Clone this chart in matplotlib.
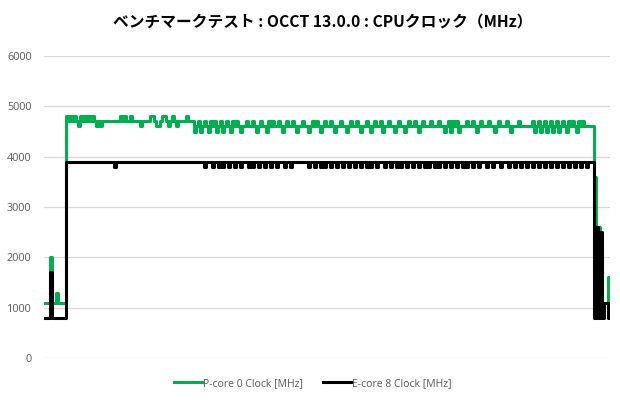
import matplotlib
matplotlib.use("Agg")
import matplotlib.pyplot as plt
import numpy as np

TITLE = "ベンチマークテスト : OCCT 13.0.0 : CPUクロック（MHz）"
SERIES_NAMES = ["P-core 0 Clock [MHz]", "E-core 8 Clock [MHz]"]
Y_TICKS = [0, 1000, 2000, 3000, 4000, 5000, 6000]

# clock readings, in units of 100 MHz, one per sample
p_core_idle = [11, 11, 11, 20, 11, 11, 13, 11, 11, 11, 11]
p_core_early = [
    48, 47, 48, 47, 48, 47, 46, 48, 47, 48,
    47, 48, 47, 48, 47, 46, 47, 46, 47, 47,
    47, 47, 47, 47, 47, 47, 47, 48, 47, 48,
    47, 47, 48, 47, 47, 47, 47, 46, 47, 47,
    47, 47, 48, 48, 47, 46, 46, 47, 48, 48,
    47, 46, 47, 48, 47, 46, 47, 47, 47, 47,
    48, 47, 47, 47,
]
p_core_load = [
    45, 46, 47, 45, 46, 47, 46, 45, 47, 46,
    47, 45, 46, 47, 45, 46, 47, 46, 45, 47,
    46, 47, 46, 45, 46, 46, 47, 46, 46, 47,
    46, 45, 46, 47, 46, 46, 45, 47, 46, 47,
    46, 46, 47, 46, 45, 46, 47, 46, 46, 47,
    46, 45, 46, 46, 47, 46, 46, 45, 46, 47,
    46, 47, 46, 45, 46, 47, 46, 46, 47, 46,
    45, 46, 46, 47, 46, 46, 45, 46, 47, 46,
    46, 47, 46, 45, 46, 46, 47, 46, 45, 46,
    47, 46, 46, 47, 45, 46, 46, 47, 46, 46,
    45, 46, 47, 46, 46, 45, 46, 47, 46, 46,
    47, 46, 45, 46, 47, 46, 46, 46, 47, 46,
    46, 46, 47, 46, 46, 45, 46, 47, 45, 47,
    46, 47, 45, 46, 46, 46, 47, 46, 46, 47,
    46, 45, 46, 47, 46, 46, 46, 47, 46, 46,
    45, 46, 47, 46, 46, 46, 47, 46, 45, 46,
    46, 46, 47, 46, 46, 46, 46, 46, 46, 47,
    45, 46, 47, 45, 46, 47, 45, 46, 47, 45,
    46, 47, 45, 46, 47, 46, 45, 47, 46, 47,
    46, 45, 47, 46, 47, 46, 46, 46, 46, 46,
]
p_core_tail = [36, 24, 26, 23, 11, 11, 11, 16]

e_core_idle = [8, 8, 8, 17, 8, 8, 8, 8, 8, 8, 8]
e_core_early = [
    39, 39, 39, 39, 39, 39, 39, 39, 39, 39,
    39, 39, 39, 39, 39, 39, 39, 39, 39, 39,
    39, 39, 39, 39, 38, 39, 39, 39, 39, 39,
    39, 39, 39, 39, 39, 39, 39, 39, 39, 39,
    39, 39, 39, 39, 39, 39, 39, 39, 39, 39,
    39, 39, 39, 39, 39, 39, 39, 39, 39, 39,
    39, 39, 39, 39,
]
e_core_load = [
    39, 39, 39, 39, 39, 38, 39, 39, 39, 38,
    39, 39, 38, 39, 38, 39, 39, 38, 39, 39,
    38, 39, 39, 38, 39, 39, 39, 38, 39, 38,
    39, 39, 38, 39, 39, 38, 39, 39, 38, 39,
    39, 38, 39, 39, 39, 38, 39, 39, 38, 39,
    39, 39, 39, 39, 39, 39, 39, 38, 39, 39,
    38, 39, 39, 38, 39, 38, 39, 39, 38, 39,
    39, 38, 39, 39, 38, 39, 39, 38, 39, 39,
    38, 39, 39, 38, 39, 39, 38, 39, 38, 39,
    39, 38, 39, 39, 39, 38, 39, 39, 38, 39,
    39, 38, 39, 38, 39, 39, 38, 39, 39, 38,
    39, 39, 38, 39, 39, 38, 39, 38, 39, 39,
    38, 39, 38, 39, 39, 38, 39, 39, 38, 39,
    39, 38, 39, 39, 38, 39, 38, 39, 39, 38,
    39, 39, 38, 39, 39, 39, 38, 39, 39, 38,
    39, 39, 39, 38, 39, 39, 39, 38, 39, 39,
    38, 39, 39, 38, 39, 39, 38, 39, 39, 38,
    39, 39, 38, 39, 39, 38, 39, 39, 38, 39,
    39, 38, 39, 39, 38, 39, 39, 38, 39, 39,
    38, 39, 39, 38, 39, 39, 38, 39, 39, 39,
]
e_core_tail = [8, 26, 8, 25, 8, 11, 11, 8]

p_core = np.array(p_core_idle + p_core_early + p_core_load + p_core_tail) * 100
e_core = np.array(e_core_idle + e_core_early + e_core_load + e_core_tail) * 100
samples = np.arange(len(p_core))

GREEN = "#00b050"
TEXT_GRAY = "#595959"

plt.rcParams["font.family"] = ["Open Sans", "DejaVu Sans"]

fig = plt.figure(figsize=(6.2, 4.0), dpi=100)
ax = fig.add_axes([0.071, 0.105, 0.913, 0.755])

ax.plot(samples, p_core, color=GREEN, lw=2.2, label=SERIES_NAMES[0], drawstyle="steps-mid")
ax.plot(samples, e_core, color="black", lw=2.2, label=SERIES_NAMES[1], drawstyle="steps-mid")

ax.set_xlim(-0.5, len(samples) - 0.5)
ax.set_ylim(0, 6000)
ax.set_yticks(Y_TICKS)
ax.set_yticklabels([str(v) for v in Y_TICKS])
ax.set_xticks([])
ax.grid(axis="y", color="#d9d9d9", lw=0.9)
ax.set_axisbelow(True)
for s in ax.spines.values():
    s.set_visible(False)
ax.tick_params(axis="y", length=0, pad=9, labelsize=7.8, labelcolor=TEXT_GRAY)

fig.text(0.52, 0.945, TITLE, ha="center", va="center", fontsize=11.3, fontweight="bold",
         family=["Noto Sans CJK JP", "DejaVu Sans"])

fig.legend(loc="center", bbox_to_anchor=(0.504, 0.042), ncol=2, frameon=False,
           fontsize=7.5, labelcolor=TEXT_GRAY, handlelength=2.7, handletextpad=0.1,
           columnspacing=1.9)

fig.savefig("out.png", dpi=100)
